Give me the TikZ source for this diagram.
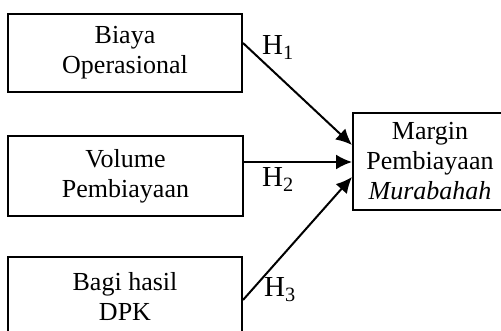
\documentclass[tikz,border=0pt]{standalone}
\usepackage{fontspec}
\setmainfont{Liberation Serif}
\usetikzlibrary{arrows.meta}

\begin{document}
\begin{tikzpicture}[x=1pt,y=-1pt,
  var/.style={draw,line width=2pt,inner sep=0pt,align=center,font=\fontsize{26}{30}\selectfont},
  hyp/.style={anchor=base west,inner sep=0pt,font=\fontsize{29}{34}\selectfont},
  link/.style={line width=2pt,-{Latex[length=16pt,width=15pt]}}]
\useasboundingbox (0,0) rectangle (501,331);
\node[var,minimum width=234pt,minimum height=78pt] (biaya) at (125,53) {Biaya\\Operasional};
\node[var,minimum width=235pt,minimum height=80pt] (volume) at (125.5,176) {Volume\\Pembiayaan};
\node[var,minimum width=234pt,minimum height=80pt] (bagi) at (125,297) {Bagi hasil\\DPK};
\node[var,minimum width=154pt,minimum height=97pt] (margin) at (430,161.5) {Margin\\Pembiayaan\\\textit{Murabahah}};
\path[link] ([yshift=10pt]biaya.east) edge ([yshift=16.5pt]margin.west)
          ([yshift=14pt]volume.east) edge ([yshift=-0.5pt]margin.west)
          ([yshift=-3pt]bagi.east) edge ([yshift=-15.5pt]margin.west);
\node[hyp] (h1) at (262,55) {H\textsubscript{1}};
\node[hyp] (h2) at (262,187) {H\textsubscript{2}};
\node[hyp] (h3) at (264,297) {H\textsubscript{3}};
\end{tikzpicture}
\end{document}
